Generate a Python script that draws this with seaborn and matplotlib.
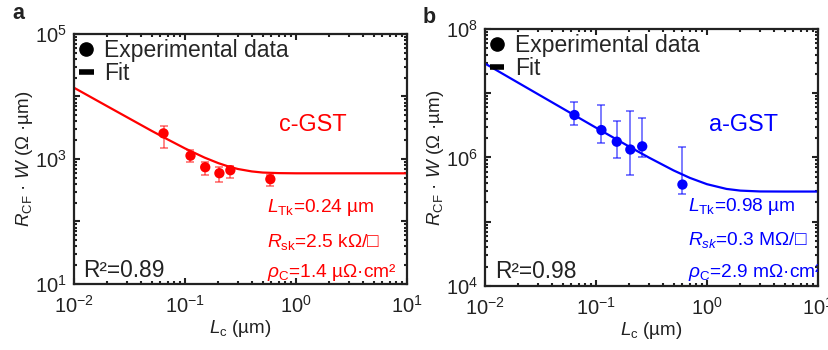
import numpy as np
import seaborn as sns
import matplotlib.pyplot as plt
import matplotlib.ticker as ticker
from matplotlib.lines import Line2D

sns.set_style("ticks")
plt.rcParams["font.family"] = ["Liberation Sans", "DejaVu Sans"]
plt.rcParams["mathtext.fontset"] = "custom"
plt.rcParams["mathtext.rm"] = "Liberation Sans"
plt.rcParams["mathtext.it"] = "Liberation Sans:italic"
plt.rcParams["mathtext.bf"] = "Liberation Sans:bold"

# ---- data ----
# panel a: c-GST
x_a = [0.064, 0.112, 0.152, 0.204, 0.256, 0.587]
y_a = [2570, 1130, 738, 592, 661, 475]
lo_a = [1514, 887, 557, 432, 501, 372]
hi_a = [3428, 1390, 906, 755, 783, 557]
fit_x_a = [0.01, 0.02, 0.05, 0.07, 0.1, 0.15, 0.2, 0.25, 0.3, 0.4, 0.5, 0.7, 1, 2, 5, 10]
fit_y_a = [13800, 6950, 2820, 2050, 1475, 1052, 857, 752, 691, 632, 607, 594, 590, 590, 590, 590]

# panel b: a-GST
x_b = [0.064, 0.112, 0.154, 0.204, 0.261, 0.601]
y_b = [4.58e6, 2.67e6, 1.76e6, 1.33e6, 1.49e6, 3.79e5]
lo_b = [3.16e6, 1.67e6, 9.9e5, 5.42e5, 1.01e6, 2.74e5]
hi_b = [7.41e6, 6.65e6, 3.65e6, 5.28e6, 4.11e6, 1.47e6]
fit_x_b = [0.01, 0.02, 0.05, 0.1, 0.2, 0.3, 0.5, 0.7, 1, 1.5, 2, 3, 5, 10]
fit_y_b = [2.9e7, 1.45e7, 5.81e6, 2.91e6, 1.47e6, 9.97e5, 6.29e5, 4.82e5,
           3.84e5, 3.24e5, 3.05e5, 2.96e5, 2.95e5, 2.95e5]

params_a = [r"$L_{\mathrm{Tk}}$=0.24 µm", r"$R_{\mathrm{sk}}$=2.5 kΩ/□",
            r"$\rho_{\mathrm{C}}$=1.4 µΩ·cm²"]
params_b = [r"$L_{\mathrm{Tk}}$=0.98 µm", r"$R_{sk}$=0.3 MΩ/□",
            r"$\rho_{\mathrm{C}}$=2.9 mΩ·cm²"]

fig = plt.figure(figsize=(8.29, 3.5), dpi=100)
ax_a = fig.add_axes([0.0893, 0.1886, 0.4017, 0.7143])
ax_b = fig.add_axes([0.585, 0.1829, 0.4017, 0.7343])

spine_col = "#222222"


def style_axis(ax, ylim, labeled):
    ax.set_xscale("log")
    ax.set_yscale("log")
    ax.set_xlim(0.01, 10)
    ax.set_ylim(*ylim)
    ax.xaxis.set_major_locator(ticker.LogLocator(base=10, numticks=10))
    ax.xaxis.set_major_formatter(ticker.LogFormatterSciNotation())
    lo, hi = int(np.log10(ylim[0])), int(np.log10(ylim[1]))
    ax.set_yticks([10.0 ** k for k in range(lo, hi + 1)])
    ax.yaxis.set_major_formatter(ticker.FuncFormatter(
        lambda v, p: rf"$\mathdefault{{10^{{{int(round(np.log10(v)))}}}}}$"
        if int(round(np.log10(v))) in labeled else ""))
    ax.yaxis.set_minor_locator(ticker.LogLocator(base=10, subs=np.arange(2, 10), numticks=20))
    ax.yaxis.set_minor_formatter(ticker.NullFormatter())
    ax.xaxis.set_minor_formatter(ticker.NullFormatter())
    ax.tick_params(which="both", direction="in", top=True, right=True,
                   colors=spine_col, width=1.5)
    ax.tick_params(which="major", length=4, labelsize=14.5, labelcolor="#222222")
    ax.tick_params(axis="x", which="major", pad=8)
    ax.tick_params(axis="y", which="major", pad=5)
    ax.tick_params(which="minor", length=2.5)
    for s in ax.spines.values():
        s.set_linewidth(1.6)
        s.set_color(spine_col)
    ax.set_xlabel(r"$L_{\mathrm{c}}$ (µm)", fontsize=13.5, color="#222222", labelpad=1)
    ax.set_ylabel(r"$R_{\mathrm{CF}}$ · $W$ (Ω ·µm)", fontsize=13.5, color="#222222", labelpad=0)
    handles = [Line2D([], [], marker="o", color="black", linestyle="none", markersize=9.5),
               Line2D([], [], color="black", linewidth=4, solid_capstyle="butt")]
    ax.legend(handles, ["Experimental data", "Fit"], loc="upper left", frameon=False,
              fontsize=16.5, handlelength=0.65, handletextpad=0.45, labelspacing=0.02,
              borderaxespad=0.2, borderpad=0.0)


def draw_panel(ax, xs, ys, lo, hi, fx, fy, color, err_alpha):
    sns.lineplot(x=fx, y=fy, ax=ax, color=color, linewidth=1.6, estimator=None, sort=False)
    ys_arr = np.array(ys)
    yerr = [ys_arr - np.array(lo), np.array(hi) - ys_arr]
    ax.errorbar(xs, ys, yerr=yerr, fmt="none", ecolor=color, alpha=err_alpha,
                elinewidth=1.1, capsize=2.8, capthick=1.1)
    sns.scatterplot(x=xs, y=ys, ax=ax, color=color, s=55, edgecolor="none", zorder=3)


draw_panel(ax_a, x_a, y_a, lo_a, hi_a, fit_x_a, fit_y_a, "#ff0000", 0.6)
draw_panel(ax_b, x_b, y_b, lo_b, hi_b, fit_x_b, fit_y_b, "#0000ff", 0.65)

style_axis(ax_a, (1e1, 1e5), {1, 3, 5})
style_axis(ax_b, (1e4, 1e8), {4, 6, 8})

ax_a.text(0.616, 0.638, "c-GST", transform=ax_a.transAxes, color="#ff0000",
          fontsize=16.8, va="center", ha="left")
ax_b.text(0.673, 0.628, "a-GST", transform=ax_b.transAxes, color="#0000ff",
          fontsize=16.8, va="center", ha="left")

for txt, yy in zip(params_a, [0.287, 0.149, 0.027]):
    ax_a.text(0.578, yy, txt, transform=ax_a.transAxes, color="#ff0000",
              fontsize=13.8, va="baseline", ha="left")
for txt, yy in zip(params_b, [0.293, 0.160, 0.036]):
    ax_b.text(0.611, yy, txt, transform=ax_b.transAxes, color="#0000ff",
              fontsize=13.8, va="baseline", ha="left", clip_on=True)

ax_a.text(0.026, 0.029, "R²=0.89", transform=ax_a.transAxes, color="#222222",
          fontsize=16.4, va="baseline", ha="left")
ax_b.text(0.03, 0.030, "R²=0.98", transform=ax_b.transAxes, color="#222222",
          fontsize=16.4, va="baseline", ha="left")

fig.text(0.0145, 0.945, "a", fontsize=15.5, fontweight="bold", color="#222222", va="baseline")
fig.text(0.510, 0.935, "b", fontsize=15.5, fontweight="bold", color="#222222", va="baseline")

fig.savefig("out.png", dpi=100)
